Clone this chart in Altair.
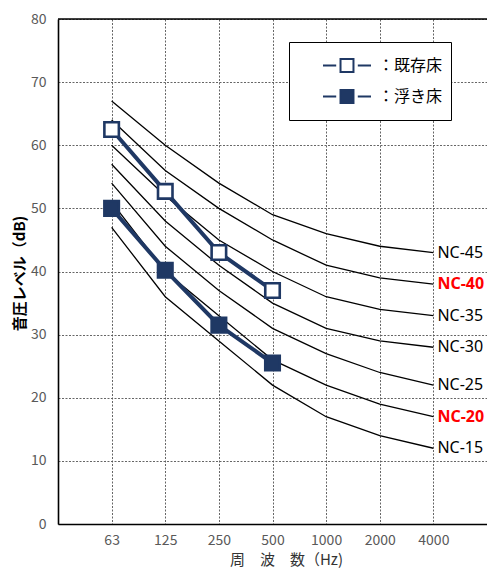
import altair as alt
import pandas as pd

freqs = ["63", "125", "250", "500", "1000", "2000", "4000"]
nc_names = ["NC-15", "NC-20", "NC-25", "NC-30", "NC-35", "NC-40", "NC-45"]
nc_15 = [47, 36, 29, 22, 17, 14, 12]
nc_20 = [51, 40, 33, 26, 22, 19, 17]
nc_25 = [54, 44, 37, 31, 27, 24, 22]
nc_30 = [57, 48, 41, 35, 31, 29, 28]
nc_35 = [60, 52, 45, 40, 36, 34, 33]
nc_40 = [64, 56, 50, 45, 41, 39, 38]
nc_45 = [67, 60, 54, 49, 46, 44, 43]
nc_highlight = ["NC-20", "NC-40"]

series_names = ["既存床", "浮き床"]
series_freqs = ["63", "125", "250", "500"]
existing_floor = [62.5, 52.7, 43.0, 37.0]
floating_floor = [50.0, 40.2, 31.5, 25.5]

NAVY = "#1f3864"
W, H = 429, 505

nc_rows = []
for name, vals in zip(nc_names, [nc_15, nc_20, nc_25, nc_30, nc_35, nc_40, nc_45]):
    for f, v in zip(freqs, vals):
        nc_rows.append({"nc": name, "freq": f, "level": v})
nc_df = pd.DataFrame(nc_rows)
nc_lab = nc_df[nc_df["freq"] == "4000"].copy()
nc_lab["hl"] = nc_lab["nc"].isin(nc_highlight)

s_rows = []
for name, vals in zip(series_names, [existing_floor, floating_floor]):
    for f, v in zip(series_freqs, vals):
        s_rows.append({"series": name, "freq": f, "level": v})
s_df = pd.DataFrame(s_rows)

x_enc = alt.X(
    "freq:N",
    sort=freqs,
    scale=alt.Scale(type="point", domain=freqs, padding=1),
    axis=alt.Axis(
        title="周　波　数（Hz)",
        titleFont="Noto Sans CJK JP", titleFontSize=15, titleFontWeight="normal",
        titleColor="#333333", titleX=228, titleY=35, titleAlign="center",
        titleBaseline="middle",
        labelFont="Noto Sans CJK JP", labelFontSize=14, labelColor="#595959",
        labelPadding=9, labelAngle=0, ticks=False,
        domainColor="black", domainWidth=1.6,
        grid=True, gridColor="#555555", gridDash=[2, 1.5], gridWidth=0.9,
    ),
)
y_scale = alt.Scale(domain=[0, 80], nice=False, zero=True)
y_enc = alt.Y(
    "level:Q",
    scale=y_scale,
    axis=alt.Axis(
        title="音圧レベル（dB)", values=list(range(0, 81, 10)),
        titleFont="Noto Sans CJK JP", titleFontSize=15, titleFontWeight="bold",
        titleColor="black", titleX=-39, titleY=254, titleAngle=270,
        titleAlign="center", titleBaseline="middle",
        labelFont="Noto Sans CJK JP", labelFontSize=14, labelColor="#595959",
        labelPadding=12, ticks=False,
        domainColor="black", domainWidth=1.6,
        grid=True, gridColor="#555555", gridDash=[2, 1.5], gridWidth=0.9,
    ),
)

nc_lines = alt.Chart(nc_df).mark_line(color="black", strokeWidth=1.3).encode(
    x=x_enc, y=y_enc, detail="nc:N"
)
nc_text = alt.Chart(nc_lab).mark_text(
    align="left", baseline="middle", dx=4, font="Noto Sans", fontSize=16
).encode(
    x=alt.X("freq:N", sort=freqs),
    y=alt.Y("level:Q"),
    text="nc:N",
    color=alt.condition("datum.hl", alt.value("#ff0000"), alt.value("black")),
)
nc_text_bold = nc_text.transform_filter("datum.hl").mark_text(
    align="left", baseline="middle", dx=4, font="Noto Sans", fontSize=16,
    fontWeight="bold", color="#ff0000"
)
nc_text_norm = nc_text.transform_filter("!datum.hl")

top_rule = alt.Chart(pd.DataFrame({"v": [80]})).mark_rule(
    color="black", strokeWidth=1.6
).encode(y=alt.datum(80, scale=y_scale))

s_lines = alt.Chart(s_df).mark_line(color=NAVY, strokeWidth=4).encode(
    x=alt.X("freq:N", sort=freqs), y="level:Q", detail="series:N"
)

legend_symbol = "M-1,0H-0.45M0.45,0H1M-0.27,-0.27H0.27V0.27H-0.27Z"
s_points = alt.Chart(s_df).mark_point(
    shape="square", filled=True, size=210, stroke=NAVY, strokeWidth=2.6, opacity=1
).encode(
    x=alt.X("freq:N", sort=freqs),
    y="level:Q",
    fill=alt.Fill(
        "series:N",
        scale=alt.Scale(domain=series_names, range=["white", NAVY]),
        legend=alt.Legend(
            title=None, orient="none", legendX=231, legendY=23,
            direction="vertical",
            symbolType=legend_symbol, symbolSize=2304, symbolStrokeWidth=2,
            symbolStrokeColor=NAVY, symbolOffset=25,
            clipHeight=31, rowPadding=0, padding=8,
            labelFont="Noto Sans CJK JP", labelFontSize=16, labelColor="black",
            labelOffset=6, labelExpr="'：' + datum.label + '　'",
            strokeColor="black", fillColor="white",
        ),
    ),
)

chart = alt.layer(
    nc_lines, nc_text_norm, nc_text_bold, top_rule, s_lines, s_points
).properties(
    width=W, height=H,
    autosize=alt.AutoSizeParams(type="none"),
    padding={"left": 50, "top": 11, "right": 0, "bottom": 46},
).configure_view(stroke=None).configure(background="white")

chart.save("out.html", embed_options={"renderer": "svg", "actions": False})
